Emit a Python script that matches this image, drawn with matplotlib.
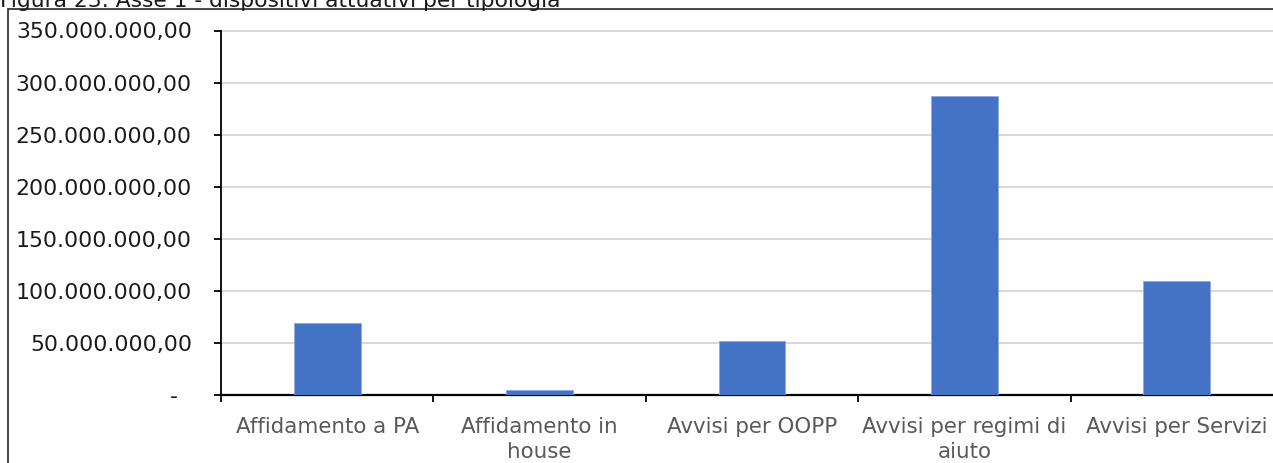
import matplotlib.pyplot as plt
from matplotlib.patches import Rectangle
from matplotlib.ticker import FuncFormatter, FixedLocator

categories = ['Affidamento a PA', 'Affidamento in\nhouse', 'Avvisi per OOPP',
              'Avvisi per regimi di\naiuto', 'Avvisi per Servizi']
importi = [69.5e6, 4.8e6, 52.0e6, 287.5e6, 109.0e6]

bar_color = '#4472C4'
grid_color = '#D9D9D9'
label_gray = '#595959'


def euro_format(v, pos):
    if v == 0:
        return '-  '
    s = f'{v:,.2f}'
    return s.replace(',', 'X').replace('.', ',').replace('X', '.')


fig = plt.figure(figsize=(12.73, 4.63), dpi=100)
W, H = 1273, 463
ax = fig.add_axes([221 / W, 1 - 395 / H, (1283 - 221) / W, (395 - 30.5) / H])

x = range(len(categories))
ax.bar(x, importi, width=0.315, color=bar_color, edgecolor='#8EA9DB', linewidth=0.6, zorder=3)

ax.set_xlim(-0.5, len(categories) - 0.5)
ax.set_ylim(0, 350e6)
ax.set_yticks([i * 50e6 for i in range(8)])
ax.yaxis.set_major_formatter(FuncFormatter(euro_format))
ax.grid(axis='y', color=grid_color, linewidth=1.5, zorder=0)
ax.set_axisbelow(True)
for gl in ax.get_ygridlines():
    gl.set_clip_on(False)

# category labels centred, tick marks on the boundaries
ax.set_xticks(list(x))
ax.set_xticklabels(categories, color=label_gray, fontsize=15.4, linespacing=1.28)
ax.tick_params(axis='x', which='major', length=0, pad=16)
ax.xaxis.set_minor_locator(FixedLocator([i - 0.5 for i in range(len(categories) + 1)]))
ax.tick_params(axis='x', which='minor', length=5, width=1.3, direction='out', color='black')
ax.tick_params(axis='y', length=5, width=1.3, direction='out', labelsize=15.8, pad=16, labelcolor='#1A1A1A')

for side in ['top', 'right']:
    ax.spines[side].set_visible(False)
ax.spines['left'].set_linewidth(1.3)
ax.spines['bottom'].set_linewidth(1.6)

# chart frame and caption
fig.patches.append(Rectangle((8 / W, -0.2), 2, 1.2 - 9 / H, transform=fig.transFigure,
                             fill=False, edgecolor='#262626', linewidth=1.2))
fig.text(0, 1 - 7 / H, 'Figura 23: Asse 1 - dispositivi attuativi per tipologia',
         fontsize=15.7, va='baseline', ha='left', color='#1A1A1A')

fig.savefig('out.png', dpi=100)
